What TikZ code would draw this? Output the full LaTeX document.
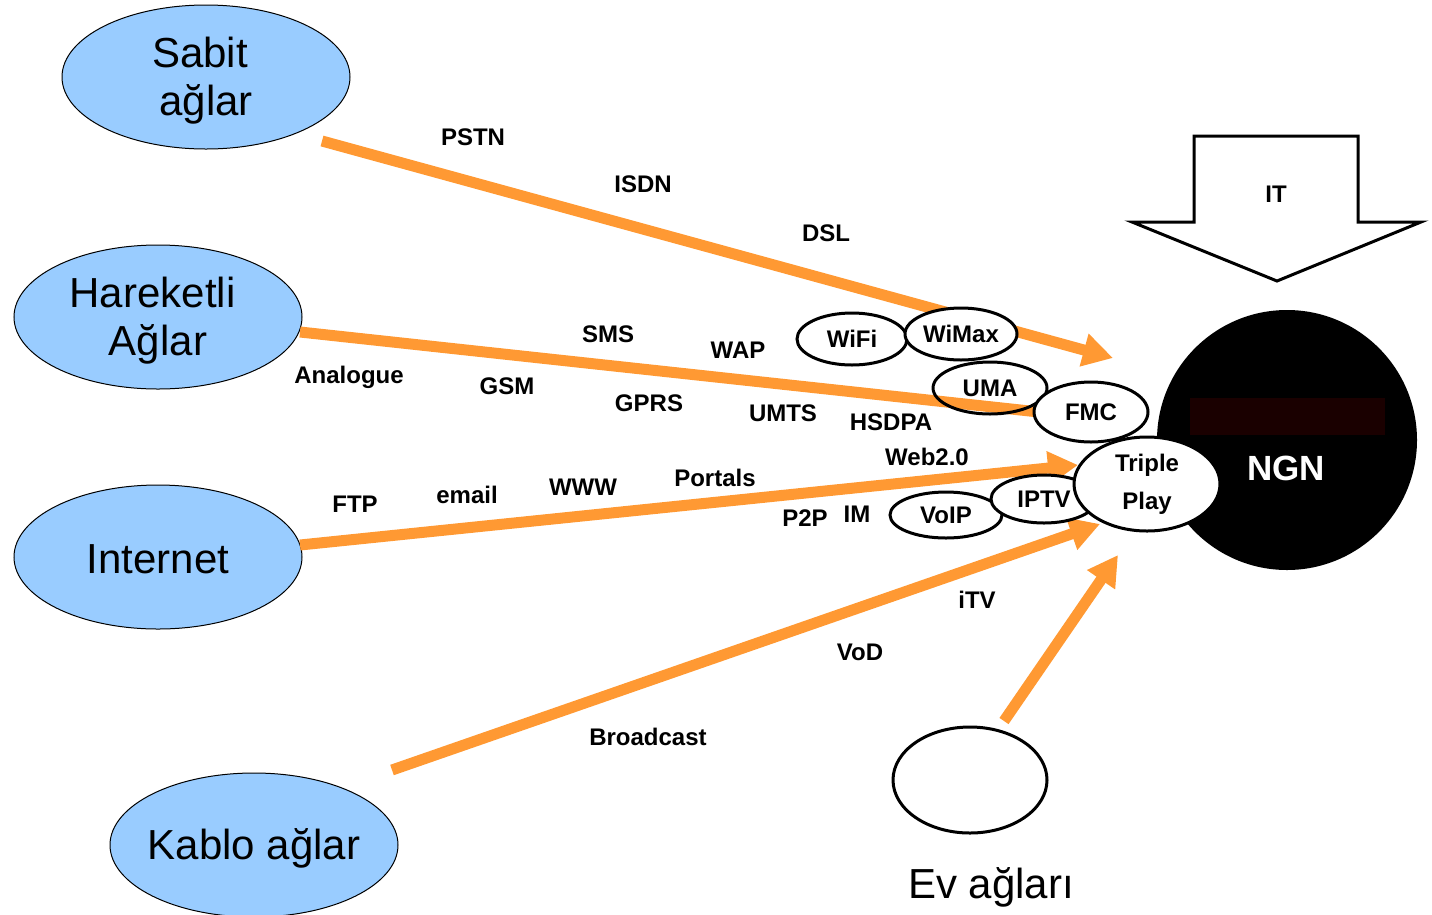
\documentclass[tikz,border=0pt]{standalone}
\usepackage{fontspec}
\setmainfont{Liberation Sans}
\usetikzlibrary{shapes.geometric,arrows.meta}
\definecolor{netblue}{HTML}{99CCFF}
\definecolor{flow}{HTML}{FF9933}
\definecolor{ngnbar}{HTML}{1A0000}
\tikzset{
  bignet/.style={ellipse, draw=black, line width=1pt, fill=netblue, inner sep=0pt,
    minimum width=288pt, minimum height=144pt},
  bigtext/.style={inner sep=0pt, align=center, font=\fontsize{42}{48}\selectfont},
  tech/.style={ellipse, draw=black, line width=3pt, fill=white, inner sep=0pt,
    font=\bfseries\fontsize{24}{38}\selectfont, align=center},
  lbl/.style={inner sep=0pt, font=\bfseries\fontsize{24}{28}\selectfont},
  flowline/.style={draw=flow, line width=11pt},
  flowarrow/.style={flowline, -{Triangle[length=30pt,width=32pt]}},
}
\begin{document}
\begin{tikzpicture}[x=1pt,y=-1pt]
\useasboundingbox (0,0) rectangle (1432,914);

% source networks
\node[bignet] (sabit) at (206,77) {};
\node[bigtext] (sabitlbl) at (206,81) {Sabit\kern12pt\\ ağlar};
\node[bignet] (hareketli) at (158,317) {};
\node[bigtext] (hareketlilbl) at (158,321) {Hareketli\kern11pt\\Ağlar};
\node[bignet] (internet) at (158,557) {};
\node[bigtext] (internetlbl) at (158,559) {Internet};
\node[bignet] (kablo) at (254,845) {};
\node[bigtext] (kablolbl) at (254,848) {Kablo ağlar};

% home network
\node[ellipse, draw=black, line width=3pt, minimum width=154pt, minimum height=106pt, inner sep=0pt] (ev) at (970,780) {};
\node[bigtext] (evlbl) at (991,887) {Ev ağları};

% flow arrows
\coordinate (s1) at (322,141);  \coordinate (e1) at (1113,358);
\coordinate (s2) at (300,332);  \coordinate (e2) at (1085,417);
\coordinate (s3) at (300,545);  \coordinate (e3) at (1078,465);
\coordinate (s4) at (392,770);  \coordinate (e4) at (1100,524);
\coordinate (s5) at (1004,721); \coordinate (e5) at (1118,555);
\draw[flowarrow] (s1) -- (e1);
\draw[flowline] (s2) -- (e2);
\draw[flowarrow] (s3) -- (e3);
\draw[flowarrow] (s4) -- (e4);
\draw[flowarrow] (s5) -- (e5);

% IT block arrow
\draw[line width=3pt, fill=white, line join=miter]
  (1194,136) -- (1358,136) -- (1358,222) -- (1421,222) -- (1277,281)
  -- (1132,222) -- (1194,222) -- cycle;
\node[lbl] (it) at (1276,194) {IT};

% NGN core
\node[circle, fill=black, minimum size=260pt, inner sep=0pt] (ngn) at (1287,440) {};
\fill[ngnbar] (1190,398) rectangle (1385,435);
\node[lbl, text=white, font=\bfseries\fontsize{35}{40}\selectfont] (ngnlbl) at (1286,468) {NGN};

% technologies
\node[tech, minimum width=110pt, minimum height=52pt] (wifi) at (852,339) {WiFi};
\node[tech, minimum width=112pt, minimum height=52pt] (wimax) at (961,334) {WiMax};
\node[tech, fill=none, minimum width=114pt, minimum height=52pt] (uma) at (990,388) {UMA};
\node[tech, minimum width=114pt, minimum height=60pt] (fmc) at (1091,412) {FMC};
\node[tech, minimum width=112pt, minimum height=46pt] (voip) at (946,515) {VoIP};
\node[tech, minimum width=106pt, minimum height=48pt] (iptv) at (1044,499) {IPTV};
\node[tech, minimum width=146pt, minimum height=94pt] (triple) at (1147,484) {Triple\\Play};

% service labels
\node[lbl] (pstn) at (473,137) {PSTN};
\node[lbl] (isdn) at (643,184) {ISDN};
\node[lbl] (dsl) at (826,233) {DSL};
\node[lbl] (sms) at (608,334) {SMS};
\node[lbl] (wap) at (738,350) {WAP};
\node[lbl] (analogue) at (349,377) {Analogue};
\node[lbl] (gsm) at (507,386) {GSM};
\node[lbl] (gprs) at (649,403) {GPRS};
\node[lbl] (umts) at (783,413) {UMTS};
\node[lbl] (hsdpa) at (891,422) {HSDPA};
\node[lbl] (web) at (927,457) {Web2.0};
\node[lbl] (ftp) at (355,504) {FTP};
\node[lbl] (email) at (467,495) {email};
\node[lbl] (www) at (583,487) {WWW};
\node[lbl] (portals) at (715,478) {Portals};
\node[lbl] (ptp) at (805,518) {P2P};
\node[lbl] (im) at (857,514) {IM};
\node[lbl] (itv) at (977,600) {iTV};
\node[lbl] (vod) at (860,652) {VoD};
\node[lbl] (bcast) at (648,737) {Broadcast};
\end{tikzpicture}
\end{document}
